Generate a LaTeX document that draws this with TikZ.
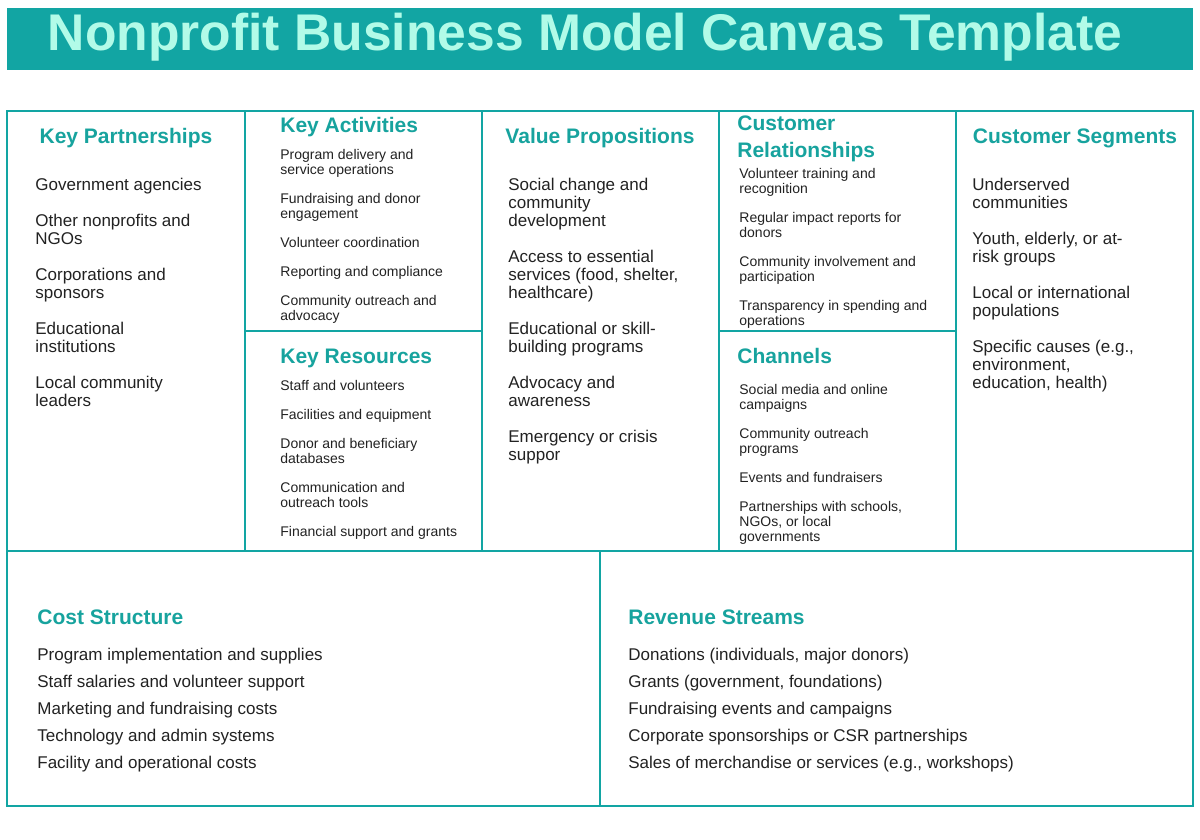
\documentclass[tikz,border=0pt]{standalone}
\usepackage{fontspec}
\setmainfont{Liberation Sans}
\usetikzlibrary{positioning}
\definecolor{tealbar}{HTML}{12A5A3}
\definecolor{mint}{HTML}{B2FBE8}
\definecolor{headteal}{HTML}{17A39E}
\definecolor{bodytext}{HTML}{222222}
\begin{document}
\begin{tikzpicture}[x=0.5pt,y=-0.5pt,
    box/.style={draw=tealbar,line width=1pt},
    head/.style={anchor=base west,inner sep=0pt,font=\fontsize{10.5}{13.5}\selectfont\bfseries,text=headteal,align=left},
    headc/.style={head,anchor=base},
    headtwo/.style={head,anchor=north west},
    biglist/.style={anchor=north west,inner sep=0pt,font=\fontsize{8.5}{9}\selectfont,text=bodytext,align=left},
    smalllist/.style={anchor=north west,inner sep=0pt,font=\fontsize{7}{7.5}\selectfont,text=bodytext,align=left},
    rowlist/.style={anchor=north west,inner sep=0pt,font=\fontsize{8.5}{13.5}\selectfont,text=bodytext,align=left}]
	% Page and title bar.
	\useasboundingbox (0,0) rectangle (1200,840);
	\fill[white] (0,0) rectangle (1200,840);
	\fill[tealbar] (7,8) rectangle (1193,70);
	\node (title) at (585,37) [text=mint,font=\fontsize{25.8}{30}\selectfont\bfseries] {Nonprofit Business Model Canvas Template};

	% Canvas grid.
	\draw[box] (7,111) rectangle (1193,806);
	\draw[box] (7,551) -- (1193,551);
	\draw[box] (600,551) -- (600,806);
	\foreach \x in {245,482,719,956} \draw[box] (\x,111) -- (\x,551);
	\draw[box] (245,331) -- (482,331);
	\draw[box] (719,331) -- (956,331);

	% Key Partnerships.
	\node (kphead) at (126,144) [headc] {Key Partnerships};
	\node (kplist) at (35,178) [biglist] {Government agencies\\[9pt]Other nonprofits and\\NGOs\\[9pt]Corporations and\\sponsors\\[9pt]Educational\\institutions\\[9pt]Local community\\leaders};

	% Key Activities and Key Resources.
	\node (kahead) at (280,133) [head] {Key Activities};
	\node (kalist) at (280,149) [smalllist] {Program delivery and\\service operations\\[7pt]Fundraising and donor\\engagement\\[7pt]Volunteer coordination\\[7pt]Reporting and compliance\\[7pt]Community outreach and\\advocacy};
	\node (krhead) at (280,363) [head] {Key Resources};
	\node (krlist) at (280,380) [smalllist] {Staff and volunteers\\[7pt]Facilities and equipment\\[7pt]Donor and beneficiary\\databases\\[7pt]Communication and\\outreach tools\\[7pt]Financial support and grants};

	% Value Propositions.
	\node (vphead) at (600,144) [headc] {Value Propositions};
	\node (vplist) at (508,178) [biglist] {Social change and\\community\\development\\[9pt]Access to essential\\services (food, shelter,\\healthcare)\\[9pt]Educational or skill-\\building programs\\[9pt]Advocacy and\\awareness\\[9pt]Emergency or crisis\\suppor};

	% Customer Relationships and Channels.
	\node (crhead) at (737,115) [headtwo] {Customer\\Relationships};
	\node (crlist) at (739,168) [smalllist] {Volunteer training and\\recognition\\[7pt]Regular impact reports for\\donors\\[7pt]Community involvement and\\participation\\[7pt]Transparency in spending and\\operations};
	\node (chhead) at (737,363) [head] {Channels};
	\node (chlist) at (739,384) [smalllist] {Social media and online\\campaigns\\[7pt]Community outreach\\programs\\[7pt]Events and fundraisers\\[7pt]Partnerships with schools,\\NGOs, or local\\governments};

	% Customer Segments.
	\node (cshead) at (1075,144) [headc] {Customer Segments};
	\node (cslist) at (972,178) [biglist] {Underserved\\communities\\[9pt]Youth, elderly, or at-\\risk groups\\[9pt]Local or international\\populations\\[9pt]Specific causes (e.g.,\\environment,\\education, health)};

	% Cost Structure and Revenue Streams.
	\node (cthead) at (37,624) [head] {Cost Structure};
	\node (ctlist) at (37,648) [rowlist] {Program implementation and supplies\\Staff salaries and volunteer support\\Marketing and fundraising costs\\Technology and admin systems\\Facility and operational costs};
	\node (rshead) at (628,624) [head] {Revenue Streams};
	\node (rslist) at (628,648) [rowlist] {Donations (individuals, major donors)\\Grants (government, foundations)\\Fundraising events and campaigns\\Corporate sponsorships or CSR partnerships\\Sales of merchandise or services (e.g., workshops)};
\end{tikzpicture}
\end{document}
